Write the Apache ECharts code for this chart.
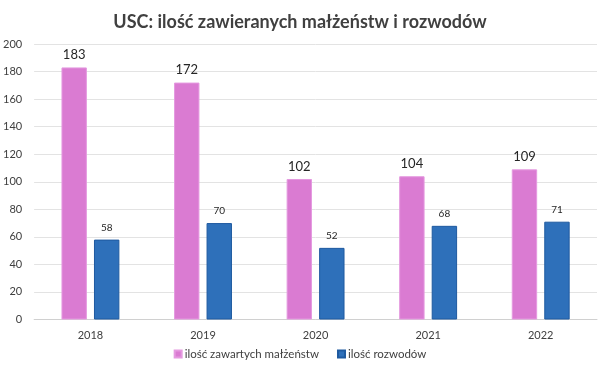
<!DOCTYPE html>
<html><head><meta charset="utf-8">
<script src="https://cdn.jsdelivr.net/npm/echarts@6/dist/echarts.min.js"></script>
<style>html,body{margin:0;padding:0;background:#fff}#c{width:600px;height:370px}</style>
</head><body><div id="c"></div>
<script>
const categories = ['2018','2019','2020','2021','2022'];
const marriages = [183,172,102,104,109];
const divorces = [58,70,52,68,71];
const seriesNames = ['ilość zawartych małżeństw','ilość rozwodów'];
const yTicks = {min:0,max:200,interval:20};

const chart = echarts.init(document.getElementById('c'));
const font = 'Lato, "Open Sans", sans-serif';
chart.setOption({
  animation:false,
  title:{text:'USC: ilość zawieranych małżeństw i rozwodów',left:'center',top:8,
    textStyle:{fontFamily:font,fontSize:18,fontWeight:'bold',color:'#404040'}},
  grid:{left:30.5,right:3,top:44,bottom:50.5,containLabel:false},
  legend:{bottom:5,left:'center',itemWidth:7,itemHeight:7,itemGap:18,icon:'rect',
    textStyle:{fontFamily:font,fontSize:11.5,color:'#404040',padding:[0,0,0,-2]}},
  xAxis:{type:'category',data:categories,
    axisLine:{lineStyle:{color:'#d0d0d0'}},axisTick:{show:false},
    axisLabel:{fontFamily:font,fontSize:11,color:'#404040',margin:10}},
  yAxis:{type:'value',min:yTicks.min,max:yTicks.max,interval:yTicks.interval,
    axisLine:{show:false},axisTick:{show:false},
    splitLine:{lineStyle:{color:'#e3e3e3'}},
    axisLabel:{fontFamily:font,fontSize:11,color:'#404040',margin:12}},
  series:[
    {name:seriesNames[0],type:'bar',data:marriages,barWidth:25.4,barGap:'28%',
     itemStyle:{color:'#DA7BD2',borderColor:'#E59AE0',borderWidth:1},
     label:{show:true,position:'top',fontFamily:font,fontSize:13,color:'#262626',distance:6}},
    {name:seriesNames[1],type:'bar',data:divorces,barWidth:25.4,
     itemStyle:{color:'#2E70BA',borderColor:'#1F5AA0',borderWidth:1},
     label:{show:true,position:'top',fontFamily:font,fontSize:10,color:'#262626',distance:7}}
  ]
});
</script></body></html>
